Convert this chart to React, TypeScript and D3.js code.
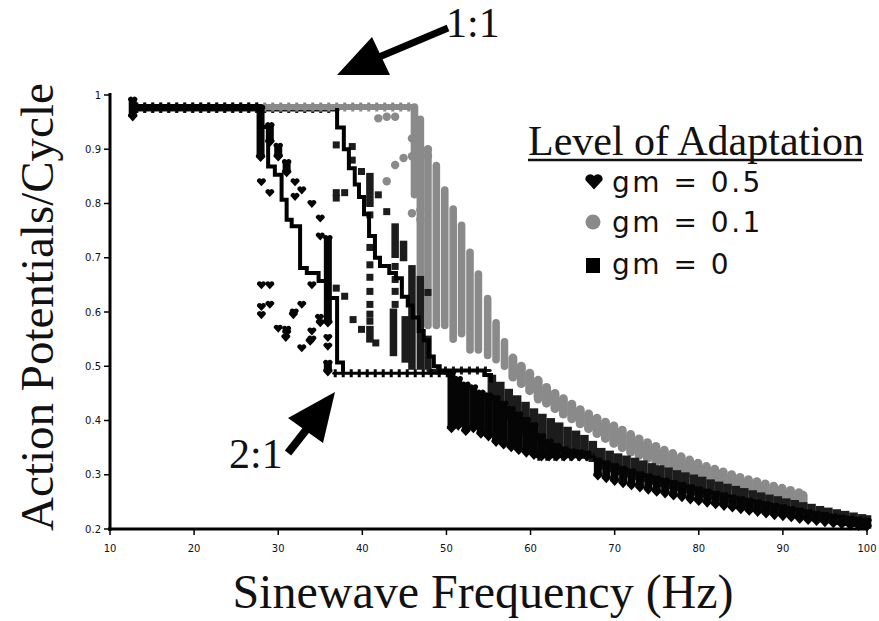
import React from "react";
import * as d3 from "d3";

// Axis ticks
const frequencyTicks = [10, 20, 30, 40, 50, 60, 70, 80, 90, 100];
const ratioTicks = [0.2, 0.3, 0.4, 0.5, 0.6, 0.7, 0.8, 0.9, 1];

// ---- gm = 0.5 (hearts) ----
// horizontal runs of markers: [fromHz, toHz, ratio]
const heartRuns: [number, number, number][] = [
  [13.0, 27.9, 0.977],
  [36.6, 50.6, 0.487],
  [60.8, 67.6, 0.333],
];
// vertical stacks of markers: [Hz, top ratio, bottom ratio]
const heartColumns: [number, number, number][] = [
  [12.7, 0.99, 0.96], [27.9, 0.975, 0.885], [29.0, 0.943, 0.913], [30.0, 0.905, 0.886],
  [31.0, 0.875, 0.857], [35.9, 0.735, 0.58], [35.9, 0.505, 0.49],
  [50.6, 0.487, 0.385], [51.4, 0.475, 0.39], [52.3, 0.465, 0.38], [53.2, 0.46, 0.385],
  [54.1, 0.45, 0.375], [55.0, 0.445, 0.37], [55.9, 0.44, 0.36], [56.8, 0.43, 0.355],
  [57.7, 0.42, 0.35], [58.6, 0.41, 0.345], [59.5, 0.4, 0.34], [60.4, 0.39, 0.336],
  [61.3, 0.37, 0.333], [62.2, 0.36, 0.333], [63.1, 0.352, 0.333], [64.0, 0.346, 0.333],
  [64.9, 0.342, 0.333], [65.8, 0.34, 0.333], [66.7, 0.338, 0.333],
  [68, 0.325, 0.298], [69, 0.32, 0.293], [70, 0.315, 0.288], [71, 0.31, 0.284],
  [72, 0.305, 0.28], [73, 0.3, 0.276], [74, 0.296, 0.272], [75, 0.292, 0.268],
  [76, 0.288, 0.265], [77, 0.284, 0.261], [78, 0.28, 0.258], [79, 0.276, 0.254],
  [80, 0.272, 0.251], [81, 0.268, 0.248], [82, 0.264, 0.245], [83, 0.261, 0.242],
  [84, 0.257, 0.239], [85, 0.254, 0.236], [86, 0.251, 0.233], [87, 0.248, 0.231],
  [88, 0.245, 0.228], [89, 0.242, 0.225], [90, 0.239, 0.223], [91, 0.236, 0.221],
  [92, 0.233, 0.218], [93, 0.23, 0.216], [94, 0.227, 0.214], [95, 0.225, 0.212],
  [96, 0.222, 0.21], [97, 0.22, 0.208], [98, 0.218, 0.206], [99, 0.216, 0.205],
  [100, 0.214, 0.204],
];
// single markers: [Hz, ratio]
const heartPoints: [number, number][] = [
  [28.0, 0.84], [29.0, 0.82], [32.0, 0.84], [32.8, 0.825], [32.0, 0.813], [34.0, 0.8],
  [35.0, 0.773], [35.0, 0.74], [28.0, 0.65], [29.0, 0.65], [34.0, 0.65], [28.0, 0.61],
  [28.0, 0.595], [29.0, 0.614], [32.8, 0.614], [31.8, 0.595], [30.0, 0.57], [31.0, 0.562],
  [30.9, 0.553], [31.0, 0.568], [34.0, 0.565], [34.0, 0.55], [35.0, 0.58], [33.8, 0.546],
  [32.8, 0.534], [35.9, 0.553], [35.9, 0.537], [34.9, 0.59], [31.9, 0.6],
];
// mean response trace (step line)
const heartStep: [number, number][] = [
  [27.8, 0.976], [27.8, 0.941], [28.8, 0.868], [29.6, 0.853], [30.4, 0.807], [31.0, 0.77],
  [31.6, 0.758], [32.6, 0.681], [33.4, 0.672], [34.8, 0.657], [35.8, 0.626], [37.0, 0.507],
  [37.7, 0.49],
];

// ---- gm = 0.1 (grey circles) ----
const circleRuns: [number, number, number][] = [[13.0, 46.2, 0.978]];
const circleColumns: [number, number, number][] = [
  [46.2, 0.978, 0.816], [46.9, 0.955, 0.6], [47.8, 0.9, 0.575], [48.8, 0.87, 0.575],
  [49.8, 0.825, 0.575], [50.8, 0.79, 0.55], [51.8, 0.76, 0.56], [52.8, 0.71, 0.53],
  [53.8, 0.67, 0.53], [54.9, 0.625, 0.52], [55.9, 0.58, 0.512], [56.9, 0.545, 0.5],
  [57.9, 0.515, 0.48], [58.9, 0.5, 0.468], [59.9, 0.487, 0.455], [60.9, 0.474, 0.443],
  [61.9, 0.461, 0.432], [62.9, 0.45, 0.422], [63.9, 0.44, 0.412], [64.9, 0.43, 0.403],
  [65.9, 0.42, 0.394], [66.9, 0.412, 0.385], [67.9, 0.404, 0.376], [68.9, 0.397, 0.367],
  [69.9, 0.39, 0.358], [70.9, 0.382, 0.35], [71.9, 0.374, 0.342], [72.9, 0.366, 0.336],
  [73.9, 0.359, 0.33], [74.9, 0.352, 0.324], [75.9, 0.345, 0.318], [76.9, 0.339, 0.313],
  [77.9, 0.333, 0.308], [78.9, 0.327, 0.303], [79.9, 0.321, 0.298], [80.9, 0.315, 0.293],
  [81.9, 0.31, 0.289], [82.9, 0.305, 0.284], [83.9, 0.3, 0.28], [84.9, 0.295, 0.276],
  [85.9, 0.291, 0.272], [86.9, 0.287, 0.268], [87.9, 0.283, 0.264], [88.9, 0.279, 0.26],
  [89.9, 0.275, 0.257], [90.9, 0.271, 0.253], [91.9, 0.267, 0.249], [92.4, 0.262, 0.246],
];
const circlePoints: [number, number][] = [
  [41.9, 0.957], [42.9, 0.96], [43.9, 0.96], [45.9, 0.92], [45.9, 0.887], [44.9, 0.884],
  [43.9, 0.871], [42.9, 0.841], [45.9, 0.782], [46.9, 0.788], [46.9, 0.77], [47.8, 0.9],
  [47.8, 0.887], [60.9, 0.439],
];

// ---- gm = 0 (squares) ----
const squareRuns: [number, number, number][] = [
  [13.0, 37.0, 0.975],
  [47.8, 55.2, 0.492],
];
const squareColumns: [number, number, number][] = [
  [40.9, 0.85, 0.8], [40.9, 0.568, 0.55], [43.9, 0.757, 0.706], [43.7, 0.6, 0.525],
  [44.9, 0.725, 0.7], [45.1, 0.586, 0.513], [45.9, 0.68, 0.5], [46.9, 0.66, 0.5],
  [47.8, 0.55, 0.5],
  [55.4, 0.478, 0.445], [56.4, 0.465, 0.42], [57.4, 0.452, 0.408], [58.4, 0.44, 0.388],
  [59.4, 0.428, 0.38], [60.4, 0.416, 0.368], [61.4, 0.406, 0.36], [62.4, 0.398, 0.352],
  [63.4, 0.39, 0.348], [64.4, 0.382, 0.344], [65.4, 0.375, 0.34], [66.4, 0.367, 0.336],
  [67.4, 0.356, 0.33], [68.4, 0.343, 0.316], [69.4, 0.338, 0.311], [70.4, 0.333, 0.306],
  [71.4, 0.329, 0.301], [72.4, 0.325, 0.297], [73.4, 0.32, 0.293], [74.4, 0.315, 0.288],
  [75.4, 0.311, 0.284], [76.4, 0.307, 0.28], [77.4, 0.302, 0.276], [78.4, 0.298, 0.272],
  [79.4, 0.294, 0.268], [80.4, 0.29, 0.264], [81.4, 0.285, 0.26], [82.4, 0.281, 0.257],
  [83.4, 0.277, 0.253], [84.4, 0.273, 0.25], [85.4, 0.269, 0.246], [86.4, 0.265, 0.243],
  [87.4, 0.261, 0.24], [88.4, 0.257, 0.237], [89.4, 0.254, 0.234], [90.4, 0.25, 0.231],
  [91.4, 0.247, 0.228], [92.4, 0.243, 0.225], [93.4, 0.24, 0.222], [94.4, 0.236, 0.219],
  [95.4, 0.233, 0.217], [96.4, 0.23, 0.214], [97.4, 0.227, 0.212], [98.4, 0.224, 0.21],
  [99.4, 0.221, 0.208], [100, 0.219, 0.207],
];
const squarePoints: [number, number][] = [
  [36.9, 0.908], [36.9, 0.82], [36.9, 0.81], [37.9, 0.82], [38.8, 0.905], [38.8, 0.88],
  [39.9, 0.859], [41.9, 0.816], [42.9, 0.785], [40.9, 0.779], [40.9, 0.719], [40.9, 0.687],
  [40.9, 0.664], [40.9, 0.638], [40.9, 0.614], [40.9, 0.596], [40.9, 0.583], [36.9, 0.644],
  [37.9, 0.629], [38.9, 0.586], [39.9, 0.568], [41.6, 0.543], [47.8, 0.636], [43.9, 0.684],
  [43.9, 0.66], [43.9, 0.638], [43.9, 0.614],
];
const squareStep: [number, number][] = [
  [37.0, 0.976], [37.0, 0.94], [37.8, 0.9], [38.4, 0.865], [39.1, 0.835], [39.6, 0.812],
  [40.2, 0.78], [40.8, 0.74], [41.5, 0.7], [42.1, 0.685], [43.2, 0.672], [44.0, 0.662],
  [44.7, 0.628], [45.4, 0.612], [46.0, 0.59], [46.7, 0.565], [47.3, 0.548], [47.9, 0.518],
  [48.5, 0.5], [49.2, 0.492], [54.5, 0.484], [55.3, 0.47],
];

const legendItems = ["gm = 0.5", "gm = 0.1", "gm = 0"];

const HEART = "#050505";
const GREY = "#8a8a8a";
const SQUARE = "#1c1c1c";

function heartPath(cx: number, cy: number, w: number) {
  const h = w * 0.9;
  const r = w * 0.29;
  return `M${cx},${cy + h * 0.55} L${cx - w / 2},${cy - h * 0.05} A${r},${r} 0 0 1 ${cx},${cy - h * 0.33} A${r},${r} 0 0 1 ${cx + w / 2},${cy - h * 0.05} Z`;
}

export default function App() {
  const x = d3.scaleLinear().domain([10, 100]).range([110, 867]);
  const y = d3.scaleLinear().domain([0.2, 1]).range([529, 95]);
  const step = d3
    .line<[number, number]>()
    .x((d) => x(d[0]))
    .y((d) => y(d[1]))
    .curve(d3.curveStepAfter);

  const runs = (data: [number, number, number][], color: string, w: number, bump: number, key: string) =>
    data.map((r, i) => (
      <g key={key + i}>
        <line x1={x(r[0])} x2={x(r[1])} y1={y(r[2])} y2={y(r[2])} stroke={color} strokeWidth={w} strokeLinecap="round" />
        <line x1={x(r[0])} x2={x(r[1])} y1={y(r[2])} y2={y(r[2])} stroke={color} strokeWidth={bump} strokeDasharray="3 5" />
      </g>
    ));

  const heartMarks = (
    <g>
      {runs(heartRuns.slice(0, 1), HEART, 7, 10, "hr0")}
      {runs(heartRuns.slice(1), HEART, 3, 8, "hr1")}
      {heartColumns.map((c, i) => (
        <g key={"hc" + i} fill={HEART}>
          <rect x={x(c[0]) - 4} width={8} y={y(c[1])} height={Math.max(0, y(c[2]) - y(c[1]))} />
          <path d={heartPath(x(c[0]), y(c[1]), 9.5)} />
          <path d={heartPath(x(c[0]), y(c[2]), 9.5)} />
        </g>
      ))}
      {heartPoints.map((p, i) => (
        <path key={"hp" + i} d={heartPath(x(p[0]), y(p[1]), 9)} fill={HEART} />
      ))}
    </g>
  );

  const circleMarks = (
    <g fill={GREY}>
      {runs(circleRuns, GREY, 6, 9, "cr")}
      {circleColumns.map((c, i) => {
        const w = c[0] > 57 ? 9 : 7.6;
        return (
          <rect key={"cc" + i} x={x(c[0]) - w / 2} width={w} y={y(c[1]) - w / 2} height={y(c[2]) - y(c[1]) + w} rx={w / 2} />
        );
      })}
      {circlePoints.map((p, i) => (
        <circle key={"cp" + i} cx={x(p[0])} cy={y(p[1])} r={4.2} />
      ))}
    </g>
  );

  const squareMarks = (
    <g fill={SQUARE}>
      {squareColumns.map((c, i) => {
        const w = c[0] > 55 ? 8.6 : 7.5;
        return <rect key={"sc" + i} x={x(c[0]) - w / 2} width={w} y={y(c[1]) - 3.5} height={y(c[2]) - y(c[1]) + 7} />;
      })}
      {squarePoints.map((p, i) => (
        <rect key={"sp" + i} x={x(p[0]) - 3.5} y={y(p[1]) - 3.5} width={7} height={7} />
      ))}
    </g>
  );

  return (
    <svg width={879} height={621} style={{ position: "absolute", left: 0, top: 0, background: "#fff" }}>
      <rect width={879} height={621} fill="#fff" />
      {/* plateau of gm = 0 lies beneath the others */}
      {runs([squareRuns[0]], SQUARE, 6, 9, "sr0")}
      {circleMarks}
      {runs([squareRuns[1]], SQUARE, 3, 8, "sr1")}
      {squareMarks}
      {heartMarks}
      <path d={step(squareStep) || ""} fill="none" stroke="#000" strokeWidth={4} />
      <path d={step(heartStep) || ""} fill="none" stroke="#000" strokeWidth={4} />

      {/* axes */}
      <line x1={110} x2={110} y1={93} y2={531} stroke="#000" strokeWidth={3} />
      <line x1={108} x2={868} y1={529} y2={529} stroke="#000" strokeWidth={3} />
      {ratioTicks.map((t) => (
        <g key={"yt" + t}>
          <line x1={104} x2={110} y1={y(t)} y2={y(t)} stroke="#000" strokeWidth={1.5} />
          <text x={101} y={y(t)} dy="0.35em" textAnchor="end" fontFamily="DejaVu Sans" fontSize={10} fill="#111">
            {t === 1 ? "1" : t.toFixed(1)}
          </text>
        </g>
      ))}
      {frequencyTicks.map((t) => (
        <g key={"xt" + t}>
          <line x1={x(t)} x2={x(t)} y1={529} y2={535} stroke="#000" strokeWidth={1.5} />
          <text x={x(t)} y={552} textAnchor="middle" fontFamily="DejaVu Sans" fontSize={10} fill="#111">
            {t}
          </text>
        </g>
      ))}

      {/* axis titles */}
      <text transform="translate(53,307) rotate(-90)" textAnchor="middle" fontFamily="Liberation Serif" fontSize={47} fill="#111">
        Action Potentials/Cycle
      </text>
      <text x={483} y={608} textAnchor="middle" fontFamily="Liberation Serif" fontSize={48} fill="#111">
        Sinewave Frequency (Hz)
      </text>

      {/* annotations */}
      <text x={446} y={37} fontFamily="Liberation Serif" fontSize={42} fill="#111">1:1</text>
      <line x1={448} x2={372} y1={28} y2={60} stroke="#000" strokeWidth={7} />
      <polygon points="337,75 372,37 390,75" fill="#000" />
      <text x={229} y={468} fontFamily="Liberation Serif" fontSize={42} fill="#111">2:1</text>
      <line x1={288} x2={310} y1={453} y2={425} stroke="#000" strokeWidth={8} />
      <polygon points="335,392 288,418 323,443" fill="#000" />

      {/* legend */}
      <text x={528} y={155} fontFamily="Liberation Serif" fontSize={42} fill="#111">Level of Adaptation</text>
      <line x1={528} x2={862} y1={160} y2={160} stroke="#111" strokeWidth={2.5} />
      <path d={heartPath(594, 181, 17)} fill={HEART} />
      <circle cx={593} cy={222} r={7.5} fill={GREY} />
      <rect x={586} y={258} width={14} height={15} fill="#000" />
      {legendItems.map((s, i) => (
        <text key={s} x={612} y={[192, 232, 274][i]} fontFamily="DejaVu Sans" fontSize={28} letterSpacing={2.5} fill="#111">
          {s}
        </text>
      ))}
    </svg>
  );
}
